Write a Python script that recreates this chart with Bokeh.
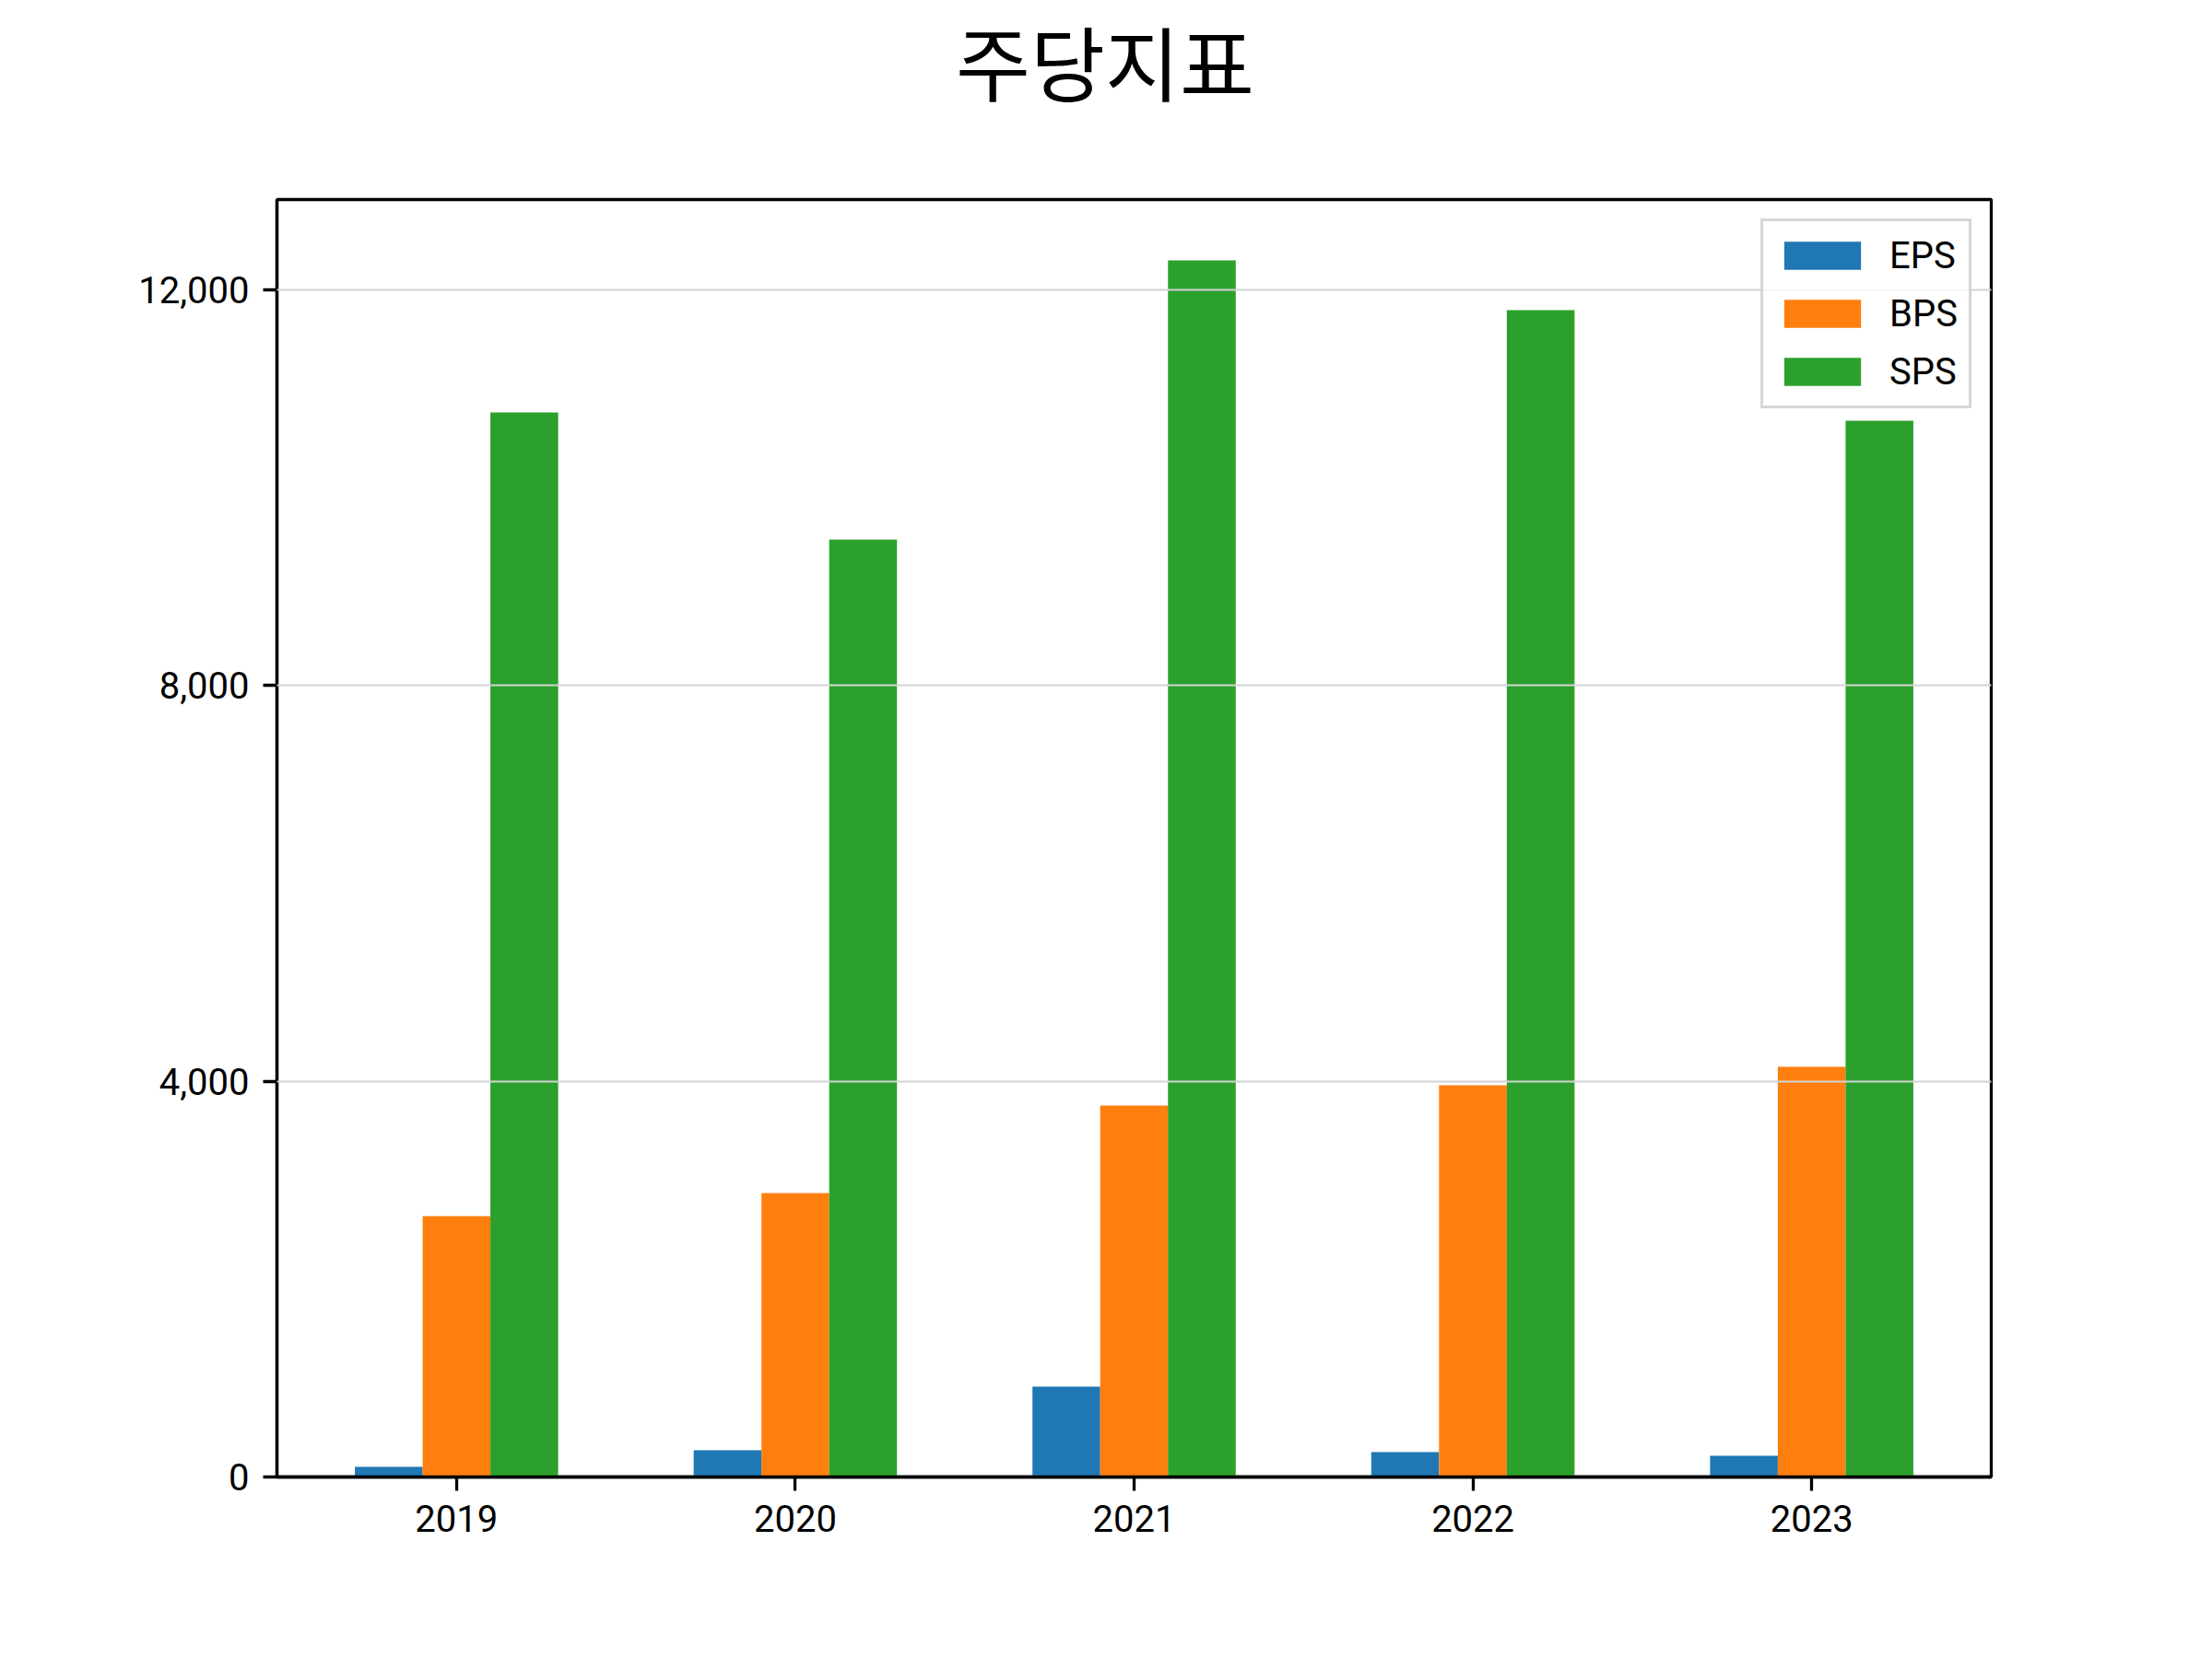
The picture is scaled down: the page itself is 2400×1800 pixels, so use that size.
from bokeh.plotting import figure
from bokeh.layouts import column
from bokeh.models import (ColumnDataSource, Range1d, FixedTicker, NumeralTickFormatter,
                          Legend, LegendItem)
from bokeh.core.properties import value
from bokeh.transform import dodge
from bokeh.embed import file_html
from bokeh.resources import INLINE

# ---- data ----
title_text = "주당지표"
years = ["2019", "2020", "2021", "2022", "2023"]
series_names = ["EPS", "BPS", "SPS"]
eps = [102, 270, 913, 252, 214]
bps = [2637, 2870, 3755, 3960, 4146]
sps = [10761, 9476, 12298, 11795, 10677]
y_ticks = [0, 4000, 8000, 12000]

# ---- styling ----
colors = ["#1f77b4", "#ff7f0e", "#2ca02c"]
bar_w = 0.2
offsets = [-bar_w, 0.0, bar_w]
cjk_font = "Noto Sans CJK KR"
latin_font = "Roboto"
TXT = "40px"

W, H = 2384, 1784
TITLE_H = 212
FRAME_L, FRAME_R, FRAME_T, FRAME_B = 300, 2160, 216, 1602   # in whole-page pixels
MAIN_H = H - TITLE_H

# ---- title strip ----
pt = figure(width=W, height=TITLE_H, output_backend="svg", toolbar_location=None,
            x_range=Range1d(0, W), y_range=Range1d(0, TITLE_H),
            x_axis_type=None, y_axis_type=None, min_border=0)
pt.outline_line_color = None
pt.background_fill_color = "white"
pt.border_fill_color = "white"
pt.text(x=[944], y=[TITLE_H - 64], text=[title_text],
        text_align="left", text_baseline="alphabetic",
        text_font=value(cjk_font), text_font_size="88px", text_color="black")

# ---- main chart ----
n = len(years)
src = ColumnDataSource(dict(x=list(range(n)), EPS=eps, BPS=bps, SPS=sps))

span = (n - 1) + 3 * bar_w
xpad = 0.05 * span
ymax = max(max(eps), max(bps), max(sps)) * 1.05

p = figure(width=W, height=MAIN_H, output_backend="svg", toolbar_location=None,
           x_range=Range1d(-1.5 * bar_w - xpad, (n - 1) + 1.5 * bar_w + xpad),
           y_range=Range1d(0, ymax),
           min_border_left=FRAME_L, min_border_right=W - FRAME_R,
           min_border_top=FRAME_T - TITLE_H, min_border_bottom=H - FRAME_B)

p.background_fill_color = "white"
p.border_fill_color = "white"
p.outline_line_color = "black"
p.outline_line_width = 3.3

renderers = []
for name, col, off in zip(series_names, colors, offsets):
    r = p.vbar(x=dodge("x", off, range=p.x_range), top=name, width=bar_w,
               source=src, fill_color=col, line_color=None)
    renderers.append((name, r))

xax = p.below[0]
yax = p.left[0]
xax.ticker = FixedTicker(ticks=list(range(n)))
xax.major_label_overrides = {i: y for i, y in enumerate(years)}
yax.ticker = FixedTicker(ticks=y_ticks)
yax.formatter = NumeralTickFormatter(format="0,0")
for ax in (xax, yax):
    ax.minor_tick_line_color = None
    ax.major_tick_out = 15
    ax.major_tick_in = 0
    ax.major_tick_line_width = 3.3
    ax.major_tick_line_color = "black"
    ax.axis_line_width = 3.3
    ax.axis_line_color = "black"
    ax.major_label_text_font = latin_font
    ax.major_label_text_font_size = TXT
    ax.major_label_text_color = "black"
    ax.major_label_standoff = 15

p.xgrid.visible = False
p.ygrid.grid_line_color = "#d3d3d3"
p.ygrid.grid_line_width = 2
p.ygrid.level = "guide"

legend = Legend(items=[LegendItem(label=nm, renderers=[r]) for nm, r in renderers],
                location="top_right", margin=21, padding=12, spacing=13,
                glyph_width=104, glyph_height=38, label_height=50,
                label_standoff=21,
                label_text_font=latin_font, label_text_font_size=TXT,
                label_text_color="black",
                background_fill_color="white", background_fill_alpha=0.8,
                border_line_color="#cccccc", border_line_alpha=0.8,
                border_line_width=3.3)
p.add_layout(legend)

page = column(pt, p, spacing=0)
open("out.html", "w").write(file_html(page, INLINE))
